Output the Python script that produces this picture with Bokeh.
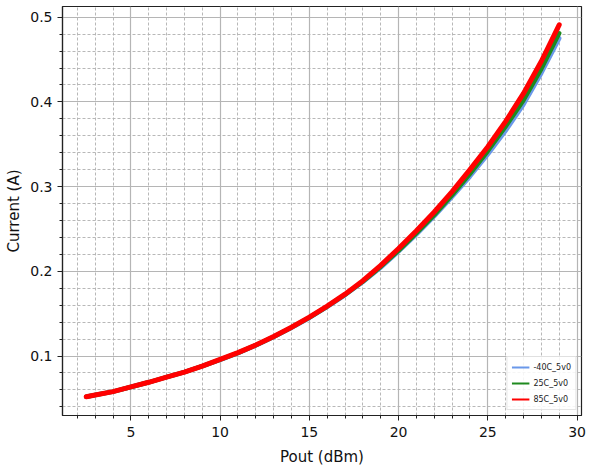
from bokeh.plotting import figure
from bokeh.models import FixedTicker, Range1d, Legend, LegendItem
from bokeh.embed import file_html
from bokeh.resources import INLINE

# Supply current vs. output power at three temperatures (5 V supply)
pout_dbm = [2.5, 3, 4, 5, 6, 7, 8, 9, 10, 11, 12, 13, 14, 15, 16, 17, 18, 19,
            20, 21, 22, 23, 24, 25, 26, 27, 28, 29]
current_m40c = [0.052, 0.054, 0.058, 0.0635, 0.069, 0.075, 0.081, 0.088, 0.0955,
                0.1035, 0.1125, 0.1225, 0.1335, 0.145, 0.158, 0.172, 0.1875,
                0.2045, 0.2235, 0.2435, 0.265, 0.288, 0.312, 0.338, 0.366,
                0.397, 0.434, 0.475]
current_25c = [0.052, 0.054, 0.058, 0.0635, 0.069, 0.075, 0.081, 0.088, 0.0958,
               0.1038, 0.1128, 0.1228, 0.1338, 0.1455, 0.1585, 0.1725, 0.188,
               0.2055, 0.2245, 0.245, 0.2665, 0.29, 0.315, 0.342, 0.371,
               0.402, 0.439, 0.481]
current_85c = [0.052, 0.054, 0.058, 0.0635, 0.069, 0.075, 0.081, 0.088, 0.096,
               0.104, 0.113, 0.123, 0.134, 0.146, 0.159, 0.173, 0.189, 0.207,
               0.227, 0.248, 0.270, 0.294, 0.320, 0.347, 0.377, 0.410, 0.448,
               0.491]
series_labels = ["-40C_5v0", "25C_5v0", "85C_5v0"]
series_colors = ["#6a98ea", "#1e8a1e", "#ff0000"]

x_major = [5, 10, 15, 20, 25, 30]
x_minor = list(range(2, 31))
y_major = [0.1, 0.2, 0.3, 0.4, 0.5]
y_minor = [round(0.02 * k, 2) for k in range(1, 26)]

FONT = "DejaVu Sans"

p = figure(width=592, height=473, output_backend="svg", toolbar_location=None,
           x_range=Range1d(1.17, 30.25), y_range=Range1d(0.0298, 0.5126),
           min_border_left=62, min_border_right=11, min_border_top=6,
           min_border_bottom=58)
p.background_fill_color = "white"
p.border_fill_color = "white"
p.outline_line_color = "#222222"
p.outline_line_width = 1.2

p.xaxis.ticker = FixedTicker(ticks=x_major, minor_ticks=x_minor)
p.yaxis.ticker = FixedTicker(ticks=y_major, minor_ticks=y_minor)

for ax in (p.xaxis[0], p.yaxis[0]):
    ax.axis_line_color = "#222222"
    ax.axis_line_width = 1.2
    ax.major_tick_line_color = "#222222"
    ax.minor_tick_line_color = "#222222"
    ax.major_tick_out = 5
    ax.major_tick_in = 0
    ax.minor_tick_out = 3
    ax.minor_tick_in = 0
    ax.major_label_text_font = FONT
    ax.major_label_text_font_size = "14px"
    ax.major_label_text_color = "#111111"
    ax.axis_label_text_font = FONT
    ax.axis_label_text_font_size = "15px"
    ax.axis_label_text_font_style = "normal"
    ax.axis_label_text_color = "#111111"

p.xaxis.axis_label = "Pout (dBm)"
p.yaxis.axis_label = "Current (A)"
p.xaxis.major_label_standoff = 6
p.xaxis.axis_label_standoff = 8
p.yaxis.major_label_standoff = 5
p.yaxis.axis_label_standoff = 4

for g in (p.xgrid[0], p.ygrid[0]):
    g.grid_line_color = "#b5b5b5"
    g.grid_line_width = 1.2
    g.minor_grid_line_color = "#b0b0b0"
    g.minor_grid_line_dash = "3 2"
    g.minor_grid_line_width = 0.9

series = [current_m40c, current_25c, current_85c]
widths = [4.5, 4.5, 5]

# thin lines carry the legend entries; the thick curves sit on top of them
items = []
for ys, lab, col in zip(series, series_labels, series_colors):
    thin = p.line(pout_dbm, ys, line_color=col, line_width=2)
    items.append(LegendItem(label=lab, renderers=[thin]))
for ys, col, w in zip(series, series_colors, widths):
    p.line(pout_dbm, ys, line_color=col, line_width=w, line_cap="round")

legend = Legend(items=items, location="bottom_right")
legend.label_text_font = FONT
legend.label_text_font_size = "8px"
legend.label_text_color = "#222222"
legend.glyph_width = 18
legend.glyph_height = 12
legend.label_standoff = 4
legend.label_height = 12
legend.spacing = 4
legend.padding = 4
legend.margin = 5
legend.border_line_color = "#cccccc"
legend.border_line_width = 1
legend.background_fill_alpha = 0.85
p.add_layout(legend, "center")

open("out.html", "w").write(file_html(p, INLINE))
